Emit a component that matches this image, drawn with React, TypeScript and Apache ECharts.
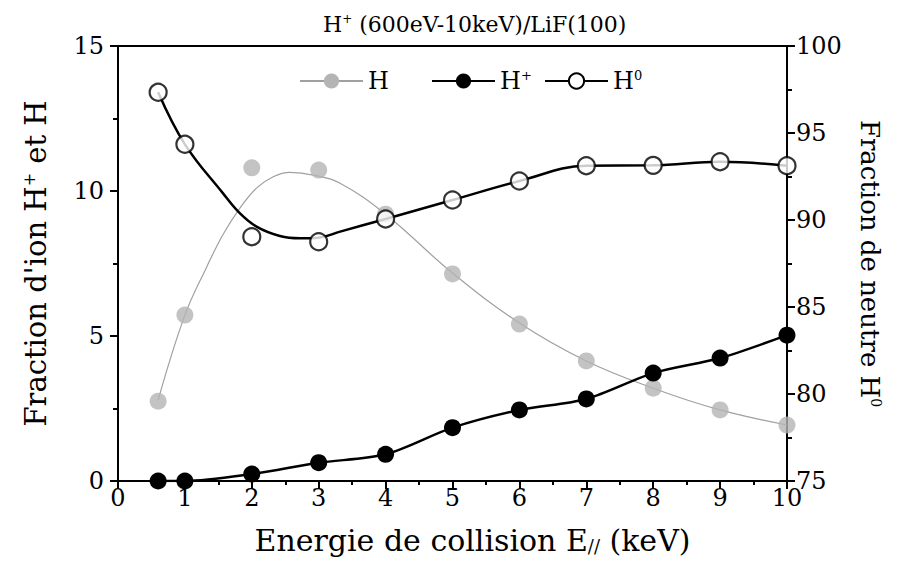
import React, { useEffect, useRef } from "react";
import * as echarts from "echarts";

const FONT = "DejaVu Serif";

// Measured points
const energies = [0.6, 1, 2, 3, 4, 5, 6, 7, 8, 9, 10];
const hMinus = [2.75, 5.72, 10.8, 10.72, 9.2, 7.14, 5.41, 4.14, 3.2, 2.45, 1.93];
const hPlus = [0, 0, 0.24, 0.63, 0.92, 1.84, 2.45, 2.83, 3.72, 4.24, 5.03];
const h0 = [97.34, 94.35, 89.04, 88.75, 90.06, 91.15, 92.24, 93.12, 93.14, 93.35, 93.12];

// Fitted curves
const hMinusFitX = [0.6, 1, 1.33, 1.57, 1.82, 2.07, 2.32, 2.57, 2.92, 3.32, 4, 5, 6, 7, 8, 9, 10];
const hMinusFitY = [2.79, 5.72, 7.4, 8.5, 9.4, 10.1, 10.49, 10.64, 10.55, 10.27, 9.2, 7.17, 5.45, 4.14, 3.2, 2.45, 1.93];
const h0FitX = [0.6, 1, 1.57, 1.82, 2.07, 2.42, 2.72, 3.02, 3.32, 4, 5, 6, 7, 8, 9, 10];
const h0FitY = [97.34, 94.35, 91.53, 90.39, 89.62, 89.08, 88.95, 89.0, 89.33, 90.06, 91.15, 92.24, 93.12, 93.14, 93.35, 93.12];

const xTicks = { min: 0, max: 10, interval: 1 };
const leftTicks = { min: 0, max: 15, interval: 5 };
const rightTicks = { min: 75, max: 100, interval: 5 };

const zip = (xs: number[], ys: number[]) => xs.map((x, i) => [x, ys[i]]);

const rich = (size: number) => ({
  m: { fontFamily: FONT, fontSize: size, fontWeight: "normal" as const, color: "#000", verticalAlign: "bottom" as const },
  s: { fontFamily: FONT, fontSize: Math.round(size * 0.55), fontWeight: "normal" as const, color: "#000", verticalAlign: "top" as const, padding: [0, 0, Math.round(size * 0.35), 0] },
  sub: { fontFamily: FONT, fontSize: Math.round(size * 0.6), fontWeight: "normal" as const, color: "#000", verticalAlign: "bottom" as const, padding: [Math.round(size * 0.35), 0, 0, 0] },
});

const legendNames: Record<string, string> = {
  H: "{m|H}",
  "H+": "{m|H}{s|+}",
  H0: "{m|H}{s|0}",
};

export default function App() {
  const ref = useRef<HTMLDivElement>(null);
  useEffect(() => {
    if (!ref.current) return;
    const chart = echarts.init(ref.current, null, { renderer: "svg" });
    const axisLine = { show: true, lineStyle: { color: "#000", width: 2 } };
    const legendBase = {
      top: 64,
      itemWidth: 63,
      itemHeight: 19,
      itemGap: 4,
      selectedMode: false,
      formatter: (n: string) => legendNames[n] ?? n,
      textStyle: { fontFamily: FONT, fontSize: 24, color: "#000", rich: rich(24) },
    };
    chart.setOption({
      animation: false,
      backgroundColor: "#fff",
      textStyle: { fontFamily: FONT },
      title: {
        text: "{m|H}{s|+}{m| (600eV-10keV)/LiF(100)}",
        left: 318,
        top: 8,
        textStyle: { fontFamily: FONT, fontSize: 22, fontWeight: "normal", color: "#000", rich: rich(22) },
      },
      legend: [
        { ...legendBase, data: ["H"], left: 294 },
        { ...legendBase, data: ["H+"], left: 426 },
        { ...legendBase, data: ["H0"], left: 539 },
      ],
      grid: {
        left: 118,
        right: 111,
        top: 46,
        bottom: 91,
        show: true,
        borderColor: "#000",
        borderWidth: 2,
        backgroundColor: "transparent",
        containLabel: false,
        outerBoundsMode: "none",
      },
      xAxis: {
        type: "value",
        ...xTicks,
        axisLine,
        axisTick: { show: true, length: 8, lineStyle: { width: 2, color: "#000" } },
        minorTick: { show: true, splitNumber: 2, length: 4, lineStyle: { width: 2, color: "#000" } },
        splitLine: { show: false },
        axisLabel: { fontFamily: FONT, fontSize: 24, color: "#000", margin: 5 },
        name: "{m|Energie de collision E}{sub|//}{m| (keV)}",
        nameLocation: "middle",
        nameGap: 44,
        nameTextStyle: { fontFamily: FONT, fontSize: 30, color: "#000", rich: rich(30), padding: [0, 0, 0, 40] },
      },
      yAxis: [
        {
          type: "value",
          ...leftTicks,
          position: "left",
          axisLine,
          axisTick: { show: true, length: 8, lineStyle: { width: 2, color: "#000" } },
          minorTick: { show: true, splitNumber: 2, length: 5, lineStyle: { width: 2, color: "#000" } },
          splitLine: { show: false },
          axisLabel: { fontFamily: FONT, fontSize: 24, color: "#000", margin: 14 },
          name: "{m|Fraction d'ion H}{s|+}{m| et H}",
          nameLocation: "middle",
          nameGap: 68,
          nameTextStyle: { fontFamily: FONT, fontSize: 29, color: "#000", rich: rich(29) },
        },
        {
          type: "value",
          ...rightTicks,
          position: "right",
          axisLine,
          axisTick: { show: true, length: 8, lineStyle: { width: 2, color: "#000" } },
          minorTick: { show: true, splitNumber: 2, length: 5, lineStyle: { width: 2, color: "#000" } },
          splitLine: { show: false },
          axisLabel: { fontFamily: FONT, fontSize: 24, color: "#000", margin: 9 },
          name: "{m|Fraction de neutre H}{s|0}",
          nameLocation: "middle",
          nameRotate: -90,
          nameGap: 70,
          nameTextStyle: { fontFamily: FONT, fontSize: 26, color: "#000", rich: rich(26) },
        },
      ],
      series: [
        {
          name: "H",
          type: "line",
          data: zip(hMinusFitX, hMinusFitY),
          smooth: 0.4,
          symbol: "circle",
          showSymbol: false,
          lineStyle: { color: "#a0a0a0", width: 1.2 },
          itemStyle: { color: "#b4b4b4" },
          silent: true,
          z: 2,
        },
        {
          name: "H pts",
          type: "scatter",
          data: zip(energies, hMinus),
          symbol: "circle",
          symbolSize: 17,
          itemStyle: { color: "#b4b4b4" },
          silent: true,
          z: 3,
        },
        {
          name: "H+",
          type: "line",
          data: zip(energies, hPlus),
          smooth: 0.3,
          symbol: "circle",
          symbolSize: 17,
          lineStyle: { color: "#000", width: 2.5 },
          itemStyle: { color: "#000" },
          silent: true,
          z: 4,
        },
        {
          name: "H0",
          type: "line",
          yAxisIndex: 1,
          data: zip(h0FitX, h0FitY),
          smooth: 0.4,
          symbol: "emptyCircle",
          showSymbol: false,
          lineStyle: { color: "#000", width: 2.5 },
          itemStyle: { color: "#000" },
          silent: true,
          z: 5,
        },
        {
          name: "H0 pts",
          type: "scatter",
          yAxisIndex: 1,
          data: zip(energies, h0),
          symbol: "circle",
          symbolSize: 17,
          itemStyle: { color: "#fff", borderColor: "#000", borderWidth: 2.2 },
          silent: true,
          z: 6,
        },
      ],
    });
    return () => chart.dispose();
  }, []);
  return (
    <div
      ref={ref}
      style={{ position: "absolute", left: 0, top: 0, width: 898, height: 572 }}
    />
  );
}
